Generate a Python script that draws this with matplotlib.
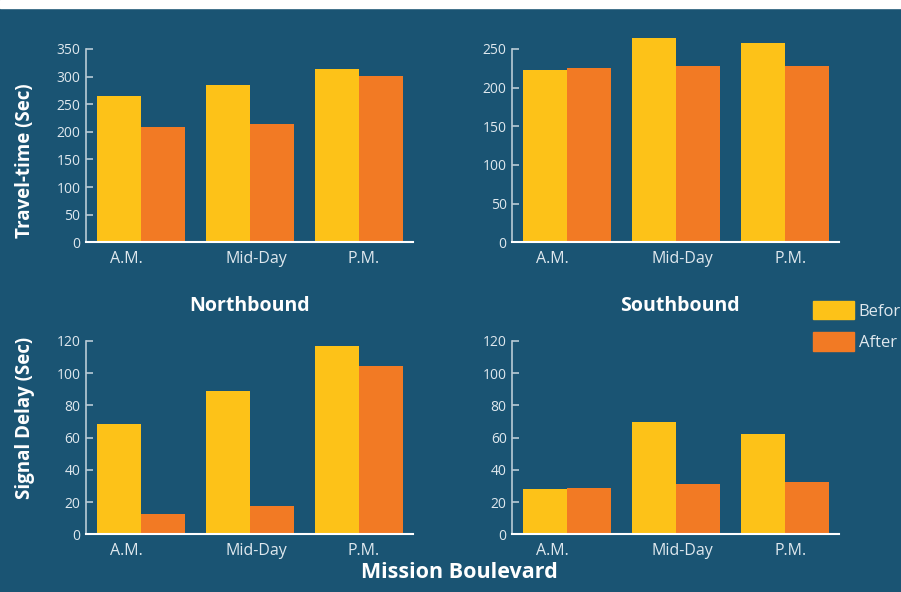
import numpy as np
import matplotlib.pyplot as plt
from matplotlib.patches import Patch, Rectangle

plt.rcParams['font.family'] = ['Open Sans', 'DejaVu Sans']

periods = ['A.M.', 'Mid-Day', 'P.M.']

# travel time in seconds
nb_travel_before = [265, 285, 314]
nb_travel_after = [209, 214, 301]
sb_travel_before = [223, 264, 258]
sb_travel_after = [225, 228, 228]

# signal delay in seconds
nb_delay_before = [68.5, 89, 117]
nb_delay_after = [12.5, 17.5, 104.5]
sb_delay_before = [28, 70, 62.3]
sb_delay_after = [28.7, 31.2, 32.5]

bg = '#1a5473'
yellow = '#fdc218'
orange = '#f27a24'
light = '#dfe8ee'

W, H = 901, 592
fig = plt.figure(figsize=(W / 100, H / 100), dpi=100, facecolor=bg)

# thin white band along the top edge
fig.patches.append(Rectangle((0, 1 - 8 / H), 1, 8 / H, transform=fig.transFigure,
                             color='white', zorder=0))

# period labels sit a little off the group centres
label_shift = [-0.135, 0.055, 0.045]


def px_axes(x0, y_top, y_bot):
    return fig.add_axes([x0 / W, 1 - y_bot / H, 327 / W, (y_bot - y_top) / H])


def bar_panel(ax, before, after, ymax, step):
    x = np.arange(len(periods))
    w = 0.404
    ax.bar(x - w, before, w, align='edge', color=yellow, clip_on=False, zorder=2)
    ax.bar(x, after, w, align='edge', color=orange, clip_on=False, zorder=2)
    ax.set_facecolor(bg)
    ax.set_xlim(-0.505, 2.495)
    ax.set_ylim(0, ymax)
    ax.set_yticks(np.arange(0, ymax + 1, step))
    ax.set_xticks(x + np.array(label_shift))
    ax.set_xticklabels(periods)
    for s in ['top', 'right']:
        ax.spines[s].set_visible(False)
    ax.spines['left'].set_color('#b9cbd6')
    ax.spines['left'].set_linewidth(1.2)
    ax.spines['bottom'].set_color('white')
    ax.spines['bottom'].set_linewidth(1.5)
    ax.spines['bottom'].set_zorder(3)
    ax.tick_params(axis='y', direction='in', length=5, width=1.2, color='#b9cbd6',
                   labelcolor=light, labelsize=10, pad=4)
    ax.tick_params(axis='x', length=0, labelcolor=light, labelsize=11.5, pad=6)


ax1 = px_axes(86, 49, 242.3)
bar_panel(ax1, nb_travel_before, nb_travel_after, 350, 50)
ax2 = px_axes(512.3, 49, 242.3)
bar_panel(ax2, sb_travel_before, sb_travel_after, 250, 50)
ax3 = px_axes(86, 341, 534.3)
bar_panel(ax3, nb_delay_before, nb_delay_after, 120, 20)
ax4 = px_axes(512.3, 341, 534.3)
bar_panel(ax4, sb_delay_before, sb_delay_after, 120, 20)


def ftext(x, y, s, **kw):
    fig.text(x / W, 1 - y / H, s, color='white', fontweight='bold',
             ha='center', va='center', **kw)


ftext(25, 161, 'Travel-time (Sec)', fontsize=13.5, rotation=90)
ftext(25, 418, 'Signal Delay (Sec)', fontsize=13.5, rotation=90)
ftext(250, 306, 'Northbound', fontsize=14)
ftext(680, 306, 'Southbound', fontsize=14)
ftext(459, 573, 'Mission Boulevard', fontsize=15.5)

handles = [Patch(color=yellow, label='Before'), Patch(color=orange, label='After')]
fig.legend(handles=handles, loc='upper left', bbox_to_anchor=(813 / W, 1 - 301 / H),
           frameon=False, fontsize=12, labelcolor=light, borderpad=0,
           borderaxespad=0, handlelength=2.45, handleheight=1.32,
           handletextpad=0.3, labelspacing=0.75)

fig.savefig('out.png', dpi=100, facecolor=bg)
